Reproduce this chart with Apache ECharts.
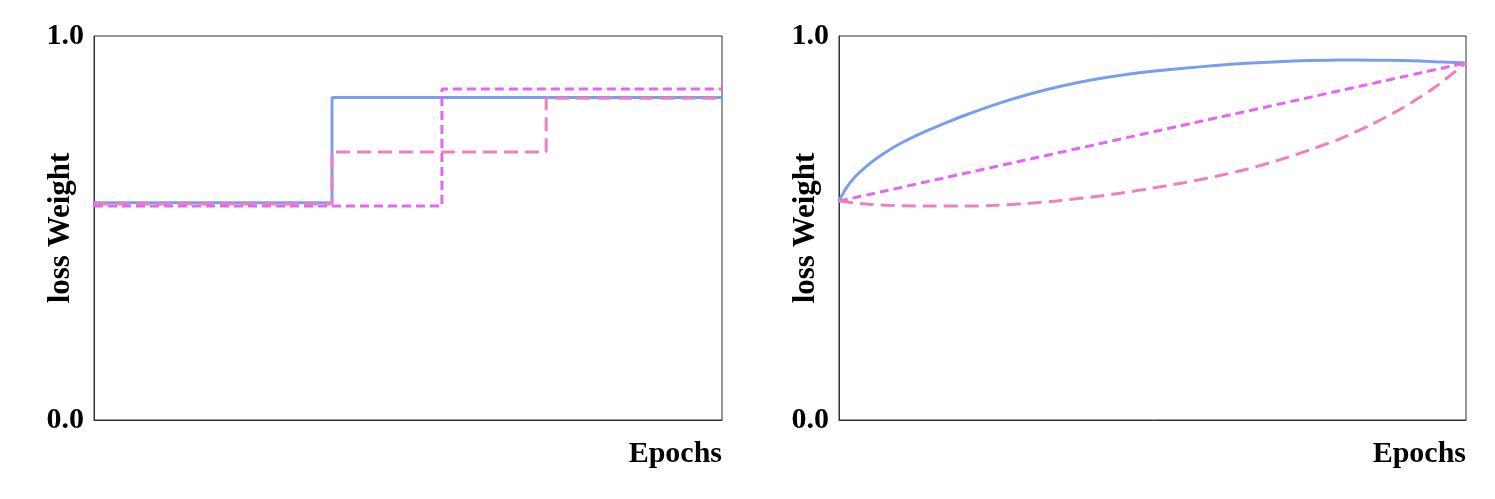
<!DOCTYPE html>
<html>
<head>
<meta charset="utf-8">
<script src="https://cdn.jsdelivr.net/npm/echarts@6/dist/echarts.min.js"></script>
<style>
  html, body { margin: 0; padding: 0; background: #fff; }
  #chart { width: 1495px; height: 499px; }
</style>
</head>
<body>
<div id="chart"></div>
<script>
// 纵轴刻度
const yTicks = [0, 1];

// 左图：阶梯式权重 [epoch, weight]
const stepSolid = [[0, 0.566], [37.9, 0.840], [100, 0.840]];
const stepDashed = [[0, 0.5625], [37.9, 0.698], [72.0, 0.838], [100, 0.838]];
const stepDotted = [[0, 0.557], [55.4, 0.862], [100, 0.862]];

// 右图：连续曲线
const solidEpochs = [0, 1, 2.5, 5, 7.5, 10, 12.5, 15, 17.5, 20, 25, 30, 35, 40, 45, 50, 55, 60, 65, 70, 75, 80, 85, 90, 95, 100];
const solidWeights = [0.570, 0.600, 0.632, 0.669, 0.698, 0.722, 0.742, 0.760, 0.777, 0.793, 0.822, 0.847, 0.868, 0.885, 0.898, 0.908, 0.916, 0.923, 0.929, 0.933, 0.936, 0.9375, 0.937, 0.936, 0.933, 0.930];
const dashedEpochs = [0, 5, 10, 15, 20, 25, 30, 35, 40, 45, 50, 55, 60, 65, 70, 75, 80, 85, 90, 95, 100];
const dashedWeights = [0.570, 0.5615, 0.558, 0.557, 0.557, 0.559, 0.564, 0.571, 0.580, 0.591, 0.604, 0.618, 0.634, 0.653, 0.676, 0.703, 0.733, 0.770, 0.814, 0.866, 0.930];
const dottedEpochs = [0, 100];
const dottedWeights = [0.570, 0.930];

const pair = (xs, ys) => xs.map((x, i) => [x, ys[i]]);

const font = 'Liberation Serif';
const blue = '#7a9df0';
const pink = '#ee80be';
const magenta = '#e566f6';

const makeX = (idx) => ({
  type: 'value',
  gridIndex: idx,
  min: 0,
  max: 100,
  axisLabel: { show: false },
  axisTick: { show: false },
  splitLine: { show: false },
  axisLine: { show: true, lineStyle: { color: '#333', width: 1 } },
  name: 'Epochs',
  nameLocation: 'end',
  nameGap: 0,
  nameTextStyle: {
    fontFamily: font, fontWeight: 'bold', fontSize: 30, color: '#000',
    align: 'right', verticalAlign: 'top', padding: [19, 0, 0, 0]
  }
});

const makeY = (idx) => ({
  type: 'value',
  gridIndex: idx,
  min: yTicks[0],
  max: yTicks[1],
  interval: 1,
  axisLabel: {
    fontFamily: font, fontWeight: 'bold', fontSize: 30, color: '#000', margin: 10,
    formatter: (v) => v.toFixed(1)
  },
  axisTick: { show: false },
  splitLine: { show: false },
  axisLine: { show: true, lineStyle: { color: '#333', width: 1 } },
  name: 'loss Weight',
  nameLocation: 'middle',
  nameRotate: 90,
  nameGap: 18,
  nameMoveOverlap: false,
  nameTextStyle: { fontFamily: font, fontWeight: 'bold', fontSize: 31, color: '#000' }
});

const line = (idx, data, color, type, step) => ({
  type: 'line',
  xAxisIndex: idx,
  yAxisIndex: idx,
  data: data,
  step: step || false,
  smooth: step ? false : 0.25,
  symbol: 'none',
  animation: false,
  lineStyle: { color: color, width: 3, type: type }
});

const chart = echarts.init(document.getElementById('chart'));
chart.setOption({
  backgroundColor: '#fff',
  animation: false,
  grid: [
    { left: 94, top: 36, width: 628, height: 384, show: true, borderColor: '#333', borderWidth: 1 },
    { left: 839, top: 36, width: 627, height: 384, show: true, borderColor: '#333', borderWidth: 1 }
  ],
  xAxis: [makeX(0), makeX(1)],
  yAxis: [makeY(0), makeY(1)],
  series: [
    line(0, stepSolid, blue, 'solid', 'end'),
    line(0, stepDashed, pink, [14, 7], 'end'),
    line(0, stepDotted, magenta, [9, 5], 'end'),
    line(1, pair(solidEpochs, solidWeights), blue, 'solid'),
    line(1, pair(dottedEpochs, dottedWeights), magenta, [9, 5]),
    line(1, pair(dashedEpochs, dashedWeights), pink, [14, 7])
  ]
});
</script>
</body>
</html>
